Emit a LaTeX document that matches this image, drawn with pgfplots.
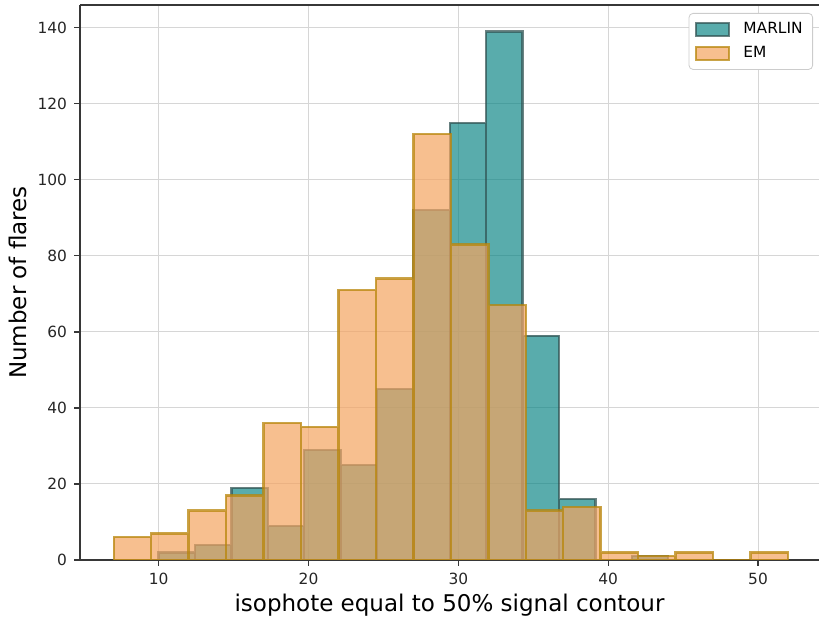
\documentclass[border=0pt]{standalone}
\usepackage{fontspec}
\setmainfont{DejaVu Sans}
\usepackage{pgfplots}
\pgfplotsset{compat=1.18}
\definecolor{marlinfill}{RGB}{0,128,128}
\definecolor{marlinedge}{RGB}{47,79,79}
\definecolor{emfill}{RGB}{244,164,96}
\definecolor{emedge}{RGB}{184,134,11}
\definecolor{spine}{RGB}{55,55,55}
\begin{document}
\begin{tikzpicture}
\begin{axis}[name=ax, width=369.5pt, height=277.5pt, scale only axis,
 xmin=4.75, xmax=54.07, ymin=0, ymax=146,
 axis y line*=left,
 tick pos=left, tick align=outside, major tick length=3pt,
 xtick={10,20,30,40,50}, ytick={0,20,...,140},
 grid=major, grid style={line width=0.5pt, draw=black!16},
 axis line style={line width=0.8pt, draw=spine},
 tick style={line width=0.6pt, draw=spine},
 ticklabel style={font=\fontsize{7.7}{9}\selectfont, text=black!85},
 /pgf/number format/assume math mode=true,
 xlabel={isophote equal to 50\% signal contour}, ylabel={Number of flares},
 label style={font=\fontsize{11.5}{13}\selectfont},
 xlabel style={at={(axis description cs:0.5,-0.081)}, anchor=center},
 ylabel style={at={(axis description cs:-0.084,0.5)}, anchor=center},
 legend style={at={(1,1)}, anchor=north east, xshift=-3pt, yshift=-4pt, draw=black!20, rounded corners=2pt, font=\fontsize{7.7}{9}\selectfont, row sep=0.8pt, inner xsep=3pt, inner ysep=2.5pt},
 legend cell align=left,
 legend image code/.code={\draw[#1, sharp corners] (0pt,-3.25pt) rectangle (16.5pt,3.25pt); \path (21pt,0pt);},
]
\addplot[ybar interval, fill=marlinfill, fill opacity=0.65, draw=marlinedge, draw opacity=0.7, line width=1.2pt] coordinates {
(10,2) (12.4286,4) (14.8571,19) (17.2857,9) (19.7143,29) (22.1429,25) (24.5714,45) (27,92) (29.4286,115) (31.8571,139) (34.2857,59) (36.7143,16) (39.1429,0) (41.5714,1) (44,1)};
\addplot[ybar interval, fill=emfill, fill opacity=0.7, draw=emedge, draw opacity=0.75, line width=1.2pt] coordinates {
(7,6) (9.5,7) (12,13) (14.5,17) (17,36) (19.5,35) (22,71) (24.5,74) (27,112) (29.5,83) (32,67) (34.5,13) (37,14) (39.5,2) (42,1) (44.5,2) (47,0) (49.5,2) (52,2)};
\legend{MARLIN,EM}
\end{axis}
\pgfresetboundingbox
\path[use as bounding box] ([shift={(-40pt,-29.5pt)}]ax.south west) rectangle ([shift={(0pt,2.5pt)}]ax.north east);
\end{tikzpicture}
\end{document}
